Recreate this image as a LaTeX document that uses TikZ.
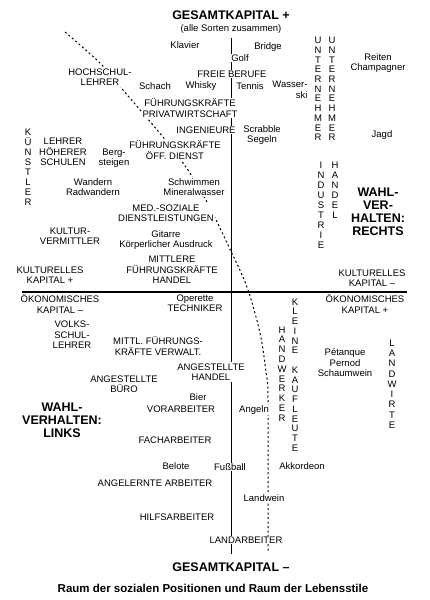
\documentclass[tikz,border=0pt]{standalone}
\usepackage{fontspec}
\setmainfont{Liberation Sans}
\usepackage{tikz}
\usetikzlibrary{calc, positioning}

\begin{document}
\begin{tikzpicture}[x=1pt, y=-1pt,
    lbl/.style={inner sep=1pt, align=center, font=\fontsize{9.5}{10.5}\selectfont},
    deck/.style={fill=white},
    vword/.style={inner sep=0.5pt, align=center, font=\fontsize{9.5}{10}\selectfont},
    wahl/.style={inner sep=1pt, align=center, font=\fontsize{12.5}{13}\selectfont\bfseries},
    gesamt/.style={inner sep=1pt, font=\fontsize{12.5}{13}\selectfont\bfseries},
    achse/.style={line width=1pt},
    kurve/.style={line width=1pt, dash pattern=on 2pt off 2.5pt}]
    \useasboundingbox (0,0) rectangle (429,600);

    % Trục: tổng vốn
    \node[gesamt] (gplus) at (231,15) {GESAMTKAPITAL +};
    \node[lbl] (sorten) at (231,29) {(alle Sorten zusammen)};
    \node[gesamt] (gminus) at (231,567) {GESAMTKAPITAL --};
    \node[inner sep=1pt, font=\fontsize{11.5}{12}\selectfont\bfseries] (titel) at (213,588)
        {Raum der sozialen Positionen und Raum der Lebensstile};

    \draw[achse, shorten <=3pt, shorten >=7pt] (sorten.south) -- (gminus.north);
    \coordinate (links) at (22,292);
    \coordinate (rechts) at (407,292);
    \draw[achse, line width=1.3pt] (links) -- (rechts);

    % Đường phân chia hành vi bầu cử
    \draw[kurve] plot[smooth, tension=0.5] coordinates {(65,32) (100,63) (123,90) (163,137)
        (188,170) (207,202) (228,245) (247,287) (260,333) (266,372) (268,400) (268,553)};

    % Phía trên
    \node[lbl] (klavier) at (185,45) {Klavier};
    \node[lbl] (bridge) at (268,47) {Bridge};
    \node[lbl, deck] (golf) at (240,58) {Golf};
    \node[lbl, deck] (freie) at (232,74) {FREIE BERUFE};
    \node[lbl, deck] (hochschul) at (100,77) {HOCHSCHUL-\\LEHRER};
    \node[lbl] (schach) at (155,86) {Schach};
    \node[lbl] (whisky) at (201,86) {Whisky};
    \node[lbl] (tennis) at (250,86) {Tennis};
    \node[lbl, align=right] (wasserski) at (290,90) {Wasser-\\ski};
    \node[lbl, deck] (fprivat) at (190,108) {FÜHRUNGSKRÄFTE\\PRIVATWIRTSCHAFT};
    \node[lbl, deck] (ingenieure) at (206,130) {INGENIEURE};
    \node[lbl] (scrabble) at (262,135) {Scrabble\\Segeln};
    \node[lbl, deck] (foeff) at (175,150) {FÜHRUNGSKRÄFTE\\ÖFF. DIENST};
    \node[lbl] (lehrer) at (63,152) {LEHRER\\HÖHERER\\SCHULEN};
    \node[lbl] (berg) at (114,158) {Berg-\\steigen};
    \node[lbl] (wandern) at (93,187) {Wandern\\Radwandern};
    \node[lbl, deck] (schwimmen) at (194,187) {Schwimmen\\Mineralwasser};
    \node[lbl, deck] (medsoz) at (166,213) {MED.-SOZIALE\\DIENSTLEISTUNGEN};
    \node[lbl] (kultverm) at (70,236) {KULTUR-\\VERMITTLER};
    \node[lbl] (gitarre) at (166,240) {Gitarre\\Körperlicher Ausdruck};
    \node[lbl] (mittlere) at (172,270) {MITTLERE\\FÜHRUNGSKRÄFTE\\HANDEL};
    \node[lbl] (reiten) at (378,63) {Reiten\\Champagner};
    \node[lbl] (jagd) at (382,135) {Jagd};
    \node[wahl] (wahlrechts) at (378,212) {WAHL-\\VER-\\HALTEN:\\RECHTS};

    % Các chữ dọc
    \node[vword] (kuenstler) at (28,167) {K\\Ü\\N\\S\\T\\L\\E\\R};
    \node[vword, font=\fontsize{9.5}{9.7}\selectfont] (unternehmerA) at (318,89) {U\\N\\T\\E\\R\\N\\E\\H\\M\\E\\R};
    \node[vword, font=\fontsize{9.5}{9.7}\selectfont] (unternehmerB) at (332,89) {U\\N\\T\\E\\R\\N\\E\\H\\M\\E\\R};
    \node[vword] (industrie) at (321,205) {I\\N\\D\\U\\S\\T\\R\\I\\E};
    \node[vword] (handel) at (335,190) {H\\A\\N\\D\\E\\L};
    \node[vword, font=\fontsize{9.5}{9.8}\selectfont] (handwerker) at (282,374) {H\\A\\N\\D\\W\\E\\R\\K\\E\\R};
    \node[vword, font=\fontsize{9.5}{9.75}\selectfont] (kaufleute) at (295,375)
        {K\\L\\E\\I\\N\\E\\[9.75pt]K\\A\\U\\F\\L\\E\\U\\T\\E};
    \node[vword, font=\fontsize{9.5}{10.25}\selectfont] (landwirte) at (392,384) {L\\A\\N\\D\\W\\I\\R\\T\\E};

    % Hai đầu trục ngang
    \node[lbl] (kulturplus) at (50,275) {KULTURELLES\\KAPITAL +};
    \node[lbl] (kulturminus) at (372,278) {KULTURELLES\\KAPITAL --};
    \node[lbl] (oekominus) at (60,304) {ÖKONOMISCHES\\KAPITAL --};
    \node[lbl] (oekoplus) at (365,304) {ÖKONOMISCHES\\KAPITAL +};

    % Phía dưới
    \node[lbl] (operette) at (195,303) {Operette\\TECHNIKER};
    \node[lbl] (volks) at (72,335) {VOLKS-\\SCHUL-\\LEHRER};
    \node[lbl] (mittl) at (158,346) {MITTL. FÜHRUNGS-\\KRÄFTE VERWALT.};
    \node[lbl] (angbuero) at (124,384) {ANGESTELLTE\\BÜRO};
    \node[lbl, deck] (anghandel) at (211,372) {ANGESTELLTE\\HANDEL};
    \node[lbl] (petanque) at (345,363) {Pétanque\\Pernod\\Schaumwein};
    \node[lbl] (bier) at (198,397) {Bier};
    \node[lbl] (vorarb) at (181,409) {VORARBEITER};
    \node[lbl, deck] (angeln) at (254,410) {Angeln};
    \node[wahl] (wahllinks) at (62,420) {WAHL-\\VERHALTEN:\\LINKS};
    \node[lbl] (facharb) at (175,440) {FACHARBEITER};
    \node[lbl] (belote) at (176,466) {Belote};
    \node[lbl, deck] (fussball) at (230,467) {Fußball};
    \node[lbl] (akkordeon) at (302,466) {Akkordeon};
    \node[lbl] (angelernte) at (155,483) {ANGELERNTE ARBEITER};
    \node[lbl, deck] (landwein) at (264,498) {Landwein};
    \node[lbl] (hilfsarb) at (177,517) {HILFSARBEITER};
    \node[lbl, deck] (landarb) at (246,540) {LANDARBEITER};
\end{tikzpicture}
\end{document}
